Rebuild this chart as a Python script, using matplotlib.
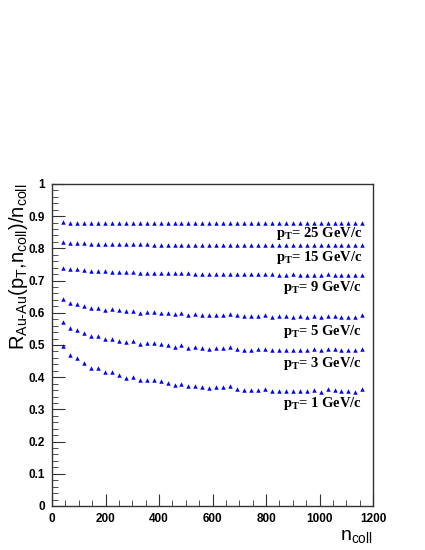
import matplotlib
matplotlib.use("Agg")
import matplotlib.pyplot as plt
from matplotlib.ticker import MultipleLocator

ncoll = [42, 68, 94, 120, 146, 172, 198, 224, 250, 276, 302, 328, 354, 380, 406,
         432, 458, 484, 510, 536, 562, 588, 614, 640, 666, 692, 718, 744, 770, 796,
         822, 848, 874, 900, 926, 952, 978, 1004, 1030, 1056, 1082, 1108, 1134, 1160]

r_pt1 = [0.497, 0.469, 0.459, 0.444, 0.430, 0.429, 0.416, 0.417, 0.406, 0.398, 0.402, 0.390, 0.391, 0.391, 0.387,
         0.381, 0.377, 0.379, 0.372, 0.373, 0.369, 0.366, 0.369, 0.371, 0.374, 0.363, 0.361, 0.361,
         0.360, 0.363, 0.356, 0.357, 0.357, 0.356, 0.356, 0.356, 0.361, 0.355, 0.363, 0.361, 0.357, 0.356, 0.355, 0.363]
r_pt3 = [0.570, 0.552, 0.547, 0.536, 0.528, 0.527, 0.519, 0.520, 0.513, 0.509, 0.511, 0.504, 0.505, 0.505, 0.503,
         0.499, 0.495, 0.499, 0.492, 0.493, 0.491, 0.488, 0.490, 0.491, 0.493, 0.487, 0.484, 0.484,
         0.487, 0.489, 0.484, 0.484, 0.484, 0.484, 0.485, 0.484, 0.488, 0.484, 0.489, 0.487, 0.485, 0.484, 0.484, 0.489]
r_pt5 = [0.642, 0.630, 0.627, 0.621, 0.616, 0.616, 0.610, 0.612, 0.608, 0.605, 0.607, 0.600, 0.602, 0.602, 0.600,
         0.598, 0.596, 0.598, 0.594, 0.595, 0.593, 0.593, 0.593, 0.594, 0.595, 0.592, 0.590, 0.590,
         0.590, 0.592, 0.588, 0.590, 0.589, 0.588, 0.590, 0.586, 0.591, 0.587, 0.591, 0.590, 0.588, 0.588, 0.587, 0.592]
r_pt9 = [0.740, 0.736, 0.735, 0.733, 0.731, 0.730, 0.729, 0.728, 0.727, 0.726, 0.726, 0.725, 0.724, 0.724, 0.723,
         0.723, 0.722, 0.722, 0.722, 0.721, 0.721, 0.721, 0.721, 0.720, 0.721, 0.720, 0.720, 0.719, 0.719, 0.719,
         0.719, 0.718, 0.718, 0.719, 0.718, 0.718, 0.718, 0.718, 0.719, 0.718, 0.718, 0.717, 0.717, 0.718]
r_pt15 = [0.821, 0.818, 0.817, 0.816, 0.815, 0.815, 0.814, 0.814, 0.814, 0.813, 0.813, 0.813, 0.813, 0.812, 0.812,
          0.812, 0.812, 0.812, 0.811, 0.811, 0.811, 0.811, 0.811, 0.811, 0.811, 0.810, 0.810, 0.810, 0.810, 0.810,
          0.810, 0.810, 0.810, 0.810, 0.810, 0.810, 0.810, 0.810, 0.810, 0.810, 0.810, 0.810, 0.810, 0.810]
r_pt25 = [0.881, 0.880, 0.880, 0.880, 0.880, 0.879, 0.879, 0.879, 0.879, 0.879, 0.879, 0.879, 0.879, 0.879, 0.878,
          0.878, 0.878, 0.878, 0.878, 0.878, 0.878, 0.878, 0.878, 0.878, 0.878, 0.878, 0.878, 0.878, 0.878, 0.878,
          0.878, 0.878, 0.878, 0.878, 0.878, 0.878, 0.878, 0.878, 0.878, 0.878, 0.878, 0.878, 0.878, 0.878]

series = [r_pt1, r_pt3, r_pt5, r_pt9, r_pt15, r_pt25]
labels = [r"$\mathbf{p_T}$= 1 GeV/c", r"$\mathbf{p_T}$= 3 GeV/c", r"$\mathbf{p_T}$= 5 GeV/c",
          r"$\mathbf{p_T}$= 9 GeV/c", r"$\mathbf{p_T}$= 15 GeV/c", r"$\mathbf{p_T}$= 25 GeV/c"]
label_y = [0.308, 0.431, 0.530, 0.668, 0.762, 0.836]
label_x = 1160

plt.rcParams['mathtext.fontset'] = 'custom'
plt.rcParams['mathtext.bf'] = 'Liberation Serif:bold'
plt.rcParams['mathtext.rm'] = 'Liberation Sans'
plt.rcParams['mathtext.it'] = 'Liberation Sans'

fig = plt.figure(figsize=(4.25, 5.5), dpi=100)
ax = fig.add_axes([0.1224, 0.08, 0.7553, 0.5855])

for s in series:
    assert len(s) == len(ncoll)
    ax.plot(ncoll, s, linestyle='none', marker='^', color='#0000ff', markersize=3.2,
            markeredgewidth=0)

for lab, ly in zip(labels, label_y):
    ax.text(label_x, ly, lab, ha='right', va='baseline', fontsize=10.5,
            family='Liberation Serif', weight='bold')

ax.set_xlim(0, 1200)
ax.set_ylim(0, 1)
ax.xaxis.set_major_locator(MultipleLocator(200))
ax.xaxis.set_minor_locator(MultipleLocator(50))
ax.yaxis.set_major_locator(MultipleLocator(0.1))
ax.yaxis.set_minor_locator(MultipleLocator(0.02))
ax.tick_params(which='both', direction='in', top=False, right=False, color='#333333')
ax.tick_params(which='major', length=9, width=0.8, labelsize=8.5, pad=5)
ax.tick_params(which='minor', length=4.5, width=0.6)
ax.set_xticks([0, 200, 400, 600, 800, 1000, 1200])
ax.set_xticklabels(['0', '200', '400', '600', '800', '1000', '1200'],
                   fontfamily='Liberation Sans', fontweight='bold')
ax.set_yticks([0, 0.1, 0.2, 0.3, 0.4, 0.5, 0.6, 0.7, 0.8, 0.9, 1.0])
ax.set_yticklabels(['0', '0.1', '0.2', '0.3', '0.4', '0.5', '0.6', '0.7', '0.8', '0.9', '1'],
                   fontfamily='Liberation Sans', fontweight='bold')

for sp in ax.spines.values():
    sp.set_color('#333333')
    sp.set_linewidth(1.0)

ax.set_ylabel(r"R$_{\mathrm{Au\text{-}Au}}$(p$_{\mathrm{T}}$,n$_{\mathrm{coll}}$)/n$_{\mathrm{coll}}$",
              fontsize=14.5, family='Liberation Sans', loc='top', labelpad=-1)
ax.set_xlabel(r"n$_{\mathrm{coll}}$", fontsize=14, family='Liberation Sans', loc='right', labelpad=2)

fig.savefig("out.png", dpi=100)
